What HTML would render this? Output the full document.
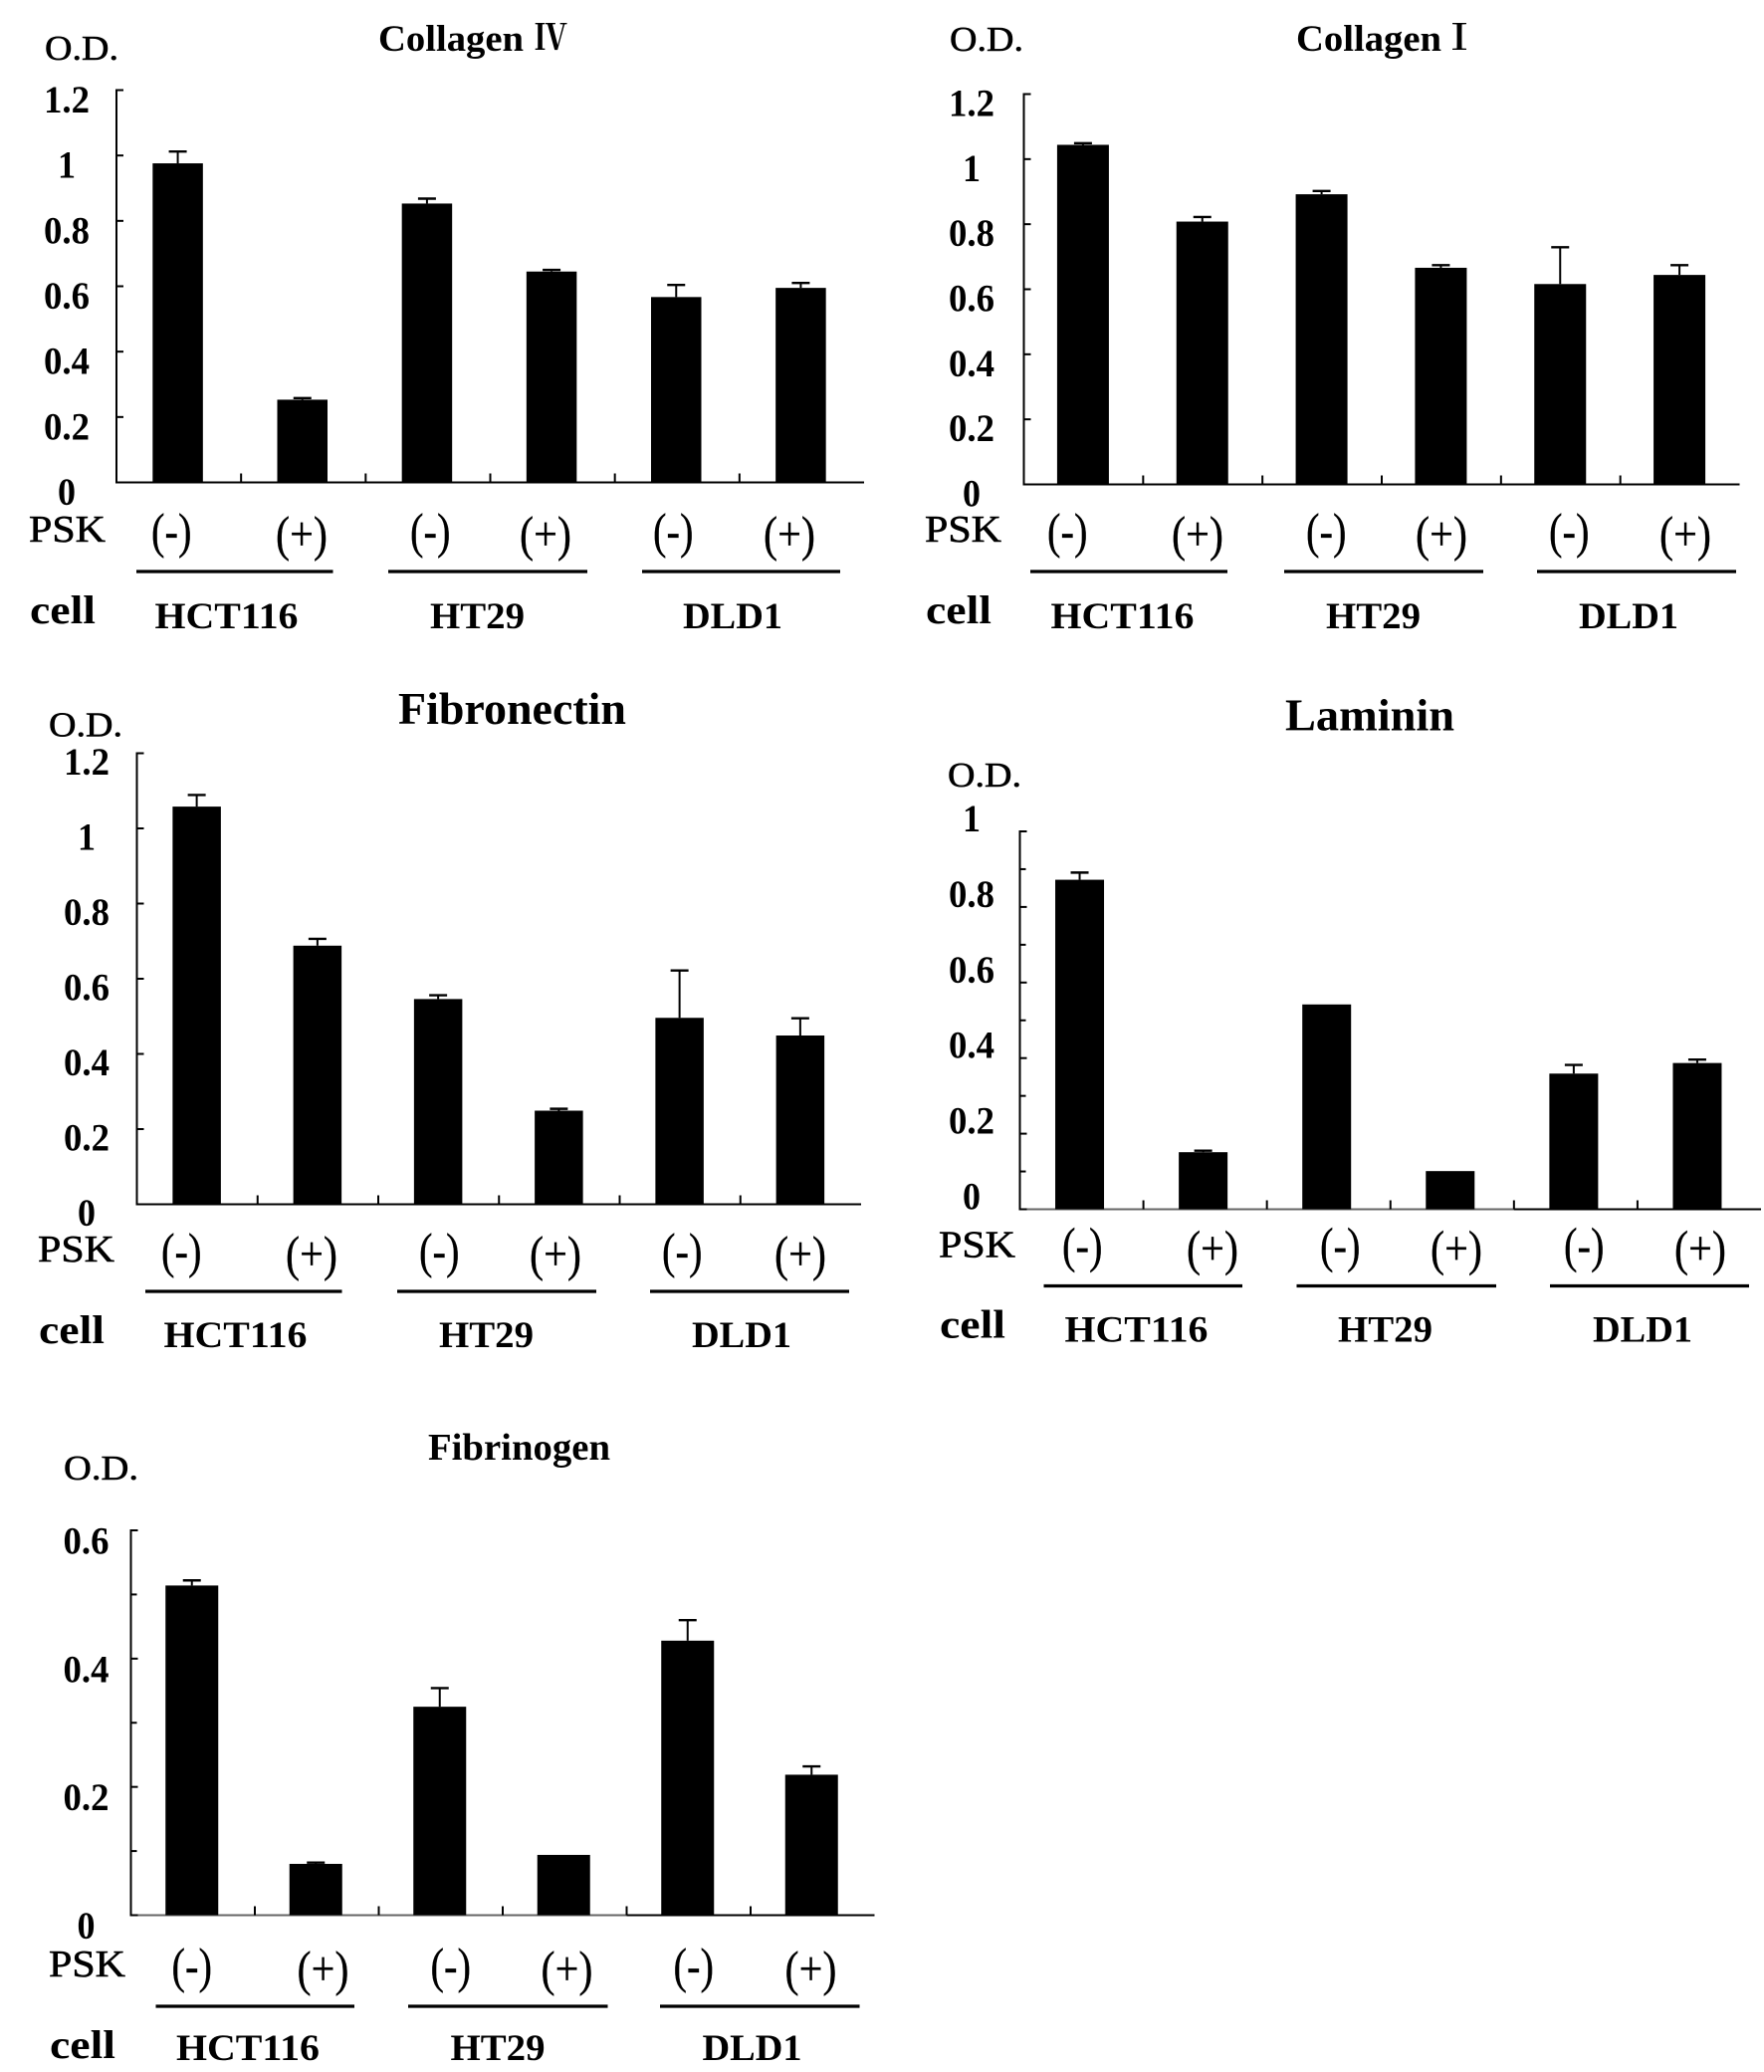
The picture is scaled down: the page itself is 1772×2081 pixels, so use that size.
<!DOCTYPE html>
<html lang="en">
<head>
<meta charset="utf-8">
<title>O.D. by cell line and PSK treatment</title>
<style>
html,body{margin:0;padding:0;background:#fff;}
svg{display:block;}
text{font-family:"Liberation Serif","Noto Serif CJK JP","Noto Sans CJK JP",serif;fill:#000;}
.t{font-weight:bold;}
.od{font-size:35px;stroke:#000;stroke-width:.6px;}
.psk{font-size:38px;stroke:#000;stroke-width:.6px;}
.sign{font-size:50px;stroke:#000;stroke-width:.3px;}
.cellhead{font-size:40px;font-weight:bold;}
.cellname{font-size:37px;font-weight:bold;}
.tick{font-size:39px;font-weight:bold;}
.rule{stroke:#000;stroke-width:3.2;}
</style>
</head>
<body>
<svg id="figure" xmlns="http://www.w3.org/2000/svg" width="1772" height="2081" viewBox="0 0 1772 2081">
<rect width="1772" height="2081" fill="#fff"/>

<g id="panel-collagen4">
<text class="t" x="380" y="51" font-size="37" textLength="146" lengthAdjust="spacingAndGlyphs">Collagen</text>
<text class="t" x="537" y="50" font-size="36" textLength="33" lengthAdjust="spacingAndGlyphs">Ⅳ</text>
<text class="od" x="45" y="60" textLength="74" lengthAdjust="spacingAndGlyphs">O.D.</text>
<g transform="translate(0,0)">
<text class="psk" x="29" y="544" textLength="77" lengthAdjust="spacingAndGlyphs">PSK</text>
<text class="sign" x="152" y="550" textLength="40.500" lengthAdjust="spacingAndGlyphs">(-)</text>
<text class="sign" x="277" y="553" textLength="52" lengthAdjust="spacingAndGlyphs">(+)</text>
<text class="sign" x="412" y="550" textLength="40.500" lengthAdjust="spacingAndGlyphs">(-)</text>
<text class="sign" x="522" y="553" textLength="52" lengthAdjust="spacingAndGlyphs">(+)</text>
<text class="sign" x="656" y="550" textLength="40.500" lengthAdjust="spacingAndGlyphs">(-)</text>
<text class="sign" x="767" y="553" textLength="52" lengthAdjust="spacingAndGlyphs">(+)</text>
<line class="rule" x1="137" x2="334.500" y1="574" y2="574"/>
<line class="rule" x1="390" x2="590" y1="574" y2="574"/>
<line class="rule" x1="645" x2="844" y1="574" y2="574"/>
<text class="cellhead" x="30" y="626" textLength="66" lengthAdjust="spacingAndGlyphs">cell</text>
<text class="cellname" x="155.500" y="631" textLength="144" lengthAdjust="spacingAndGlyphs">HCT116</text>
<text class="cellname" x="432" y="631" textLength="95" lengthAdjust="spacingAndGlyphs">HT29</text>
<text class="cellname" x="686" y="631" textLength="100" lengthAdjust="spacingAndGlyphs">DLD1</text>
</g>
</g>

<g id="panel-collagen1">
<text class="t" x="1302" y="51" font-size="37" textLength="146" lengthAdjust="spacingAndGlyphs">Collagen</text>
<text class="t" x="1448" y="50" font-size="36">Ⅰ</text>
<text class="od" x="954" y="51" textLength="74" lengthAdjust="spacingAndGlyphs">O.D.</text>
<g transform="translate(900,0)">
<text class="psk" x="29" y="544" textLength="77" lengthAdjust="spacingAndGlyphs">PSK</text>
<text class="sign" x="152" y="550" textLength="40.500" lengthAdjust="spacingAndGlyphs">(-)</text>
<text class="sign" x="277" y="553" textLength="52" lengthAdjust="spacingAndGlyphs">(+)</text>
<text class="sign" x="412" y="550" textLength="40.500" lengthAdjust="spacingAndGlyphs">(-)</text>
<text class="sign" x="522" y="553" textLength="52" lengthAdjust="spacingAndGlyphs">(+)</text>
<text class="sign" x="656" y="550" textLength="40.500" lengthAdjust="spacingAndGlyphs">(-)</text>
<text class="sign" x="767" y="553" textLength="52" lengthAdjust="spacingAndGlyphs">(+)</text>
<line class="rule" x1="135" x2="333" y1="574" y2="574"/>
<line class="rule" x1="390" x2="590" y1="574" y2="574"/>
<line class="rule" x1="644" x2="844" y1="574" y2="574"/>
<text class="cellhead" x="30" y="626" textLength="66" lengthAdjust="spacingAndGlyphs">cell</text>
<text class="cellname" x="155.500" y="631" textLength="144" lengthAdjust="spacingAndGlyphs">HCT116</text>
<text class="cellname" x="432" y="631" textLength="95" lengthAdjust="spacingAndGlyphs">HT29</text>
<text class="cellname" x="686" y="631" textLength="100" lengthAdjust="spacingAndGlyphs">DLD1</text>
</g>
</g>

<g id="panel-fibronectin">
<text class="t" x="400" y="727" font-size="45" textLength="229" lengthAdjust="spacingAndGlyphs">Fibronectin</text>
<text class="od" x="49" y="739.500" textLength="74" lengthAdjust="spacingAndGlyphs">O.D.</text>
<g transform="translate(9,723)">
<text class="psk" x="29" y="544" textLength="77" lengthAdjust="spacingAndGlyphs">PSK</text>
<text class="sign" x="153" y="550" textLength="40.500" lengthAdjust="spacingAndGlyphs">(-)</text>
<text class="sign" x="278" y="553" textLength="52" lengthAdjust="spacingAndGlyphs">(+)</text>
<text class="sign" x="412" y="550" textLength="40.500" lengthAdjust="spacingAndGlyphs">(-)</text>
<text class="sign" x="523" y="553" textLength="52" lengthAdjust="spacingAndGlyphs">(+)</text>
<text class="sign" x="656" y="550" textLength="40.500" lengthAdjust="spacingAndGlyphs">(-)</text>
<text class="sign" x="769" y="553" textLength="52" lengthAdjust="spacingAndGlyphs">(+)</text>
<line class="rule" x1="137" x2="334.500" y1="574" y2="574"/>
<line class="rule" x1="390" x2="590" y1="574" y2="574"/>
<line class="rule" x1="644" x2="844" y1="574" y2="574"/>
<text class="cellhead" x="30" y="626" textLength="66" lengthAdjust="spacingAndGlyphs">cell</text>
<text class="cellname" x="155.500" y="630" textLength="144" lengthAdjust="spacingAndGlyphs">HCT116</text>
<text class="cellname" x="432" y="630" textLength="95" lengthAdjust="spacingAndGlyphs">HT29</text>
<text class="cellname" x="686" y="630" textLength="100" lengthAdjust="spacingAndGlyphs">DLD1</text>
</g>
</g>

<g id="panel-laminin">
<text class="t" x="1291" y="733.500" font-size="45" textLength="170" lengthAdjust="spacingAndGlyphs">Laminin</text>
<text class="od" x="952" y="790" textLength="74" lengthAdjust="spacingAndGlyphs">O.D.</text>
<g transform="translate(914,717.500)">
<text class="psk" x="29" y="545" textLength="77" lengthAdjust="spacingAndGlyphs">PSK</text>
<text class="sign" x="153" y="550" textLength="40.500" lengthAdjust="spacingAndGlyphs">(-)</text>
<text class="sign" x="278" y="553" textLength="52" lengthAdjust="spacingAndGlyphs">(+)</text>
<text class="sign" x="412" y="550" textLength="40.500" lengthAdjust="spacingAndGlyphs">(-)</text>
<text class="sign" x="523" y="553" textLength="52" lengthAdjust="spacingAndGlyphs">(+)</text>
<text class="sign" x="657" y="550" textLength="40.500" lengthAdjust="spacingAndGlyphs">(-)</text>
<text class="sign" x="768" y="553" textLength="52" lengthAdjust="spacingAndGlyphs">(+)</text>
<line class="rule" x1="134.500" x2="334" y1="574" y2="574"/>
<line class="rule" x1="388.500" x2="589" y1="574" y2="574"/>
<line class="rule" x1="643" x2="843" y1="574" y2="574"/>
<text class="cellhead" x="30" y="626" textLength="66" lengthAdjust="spacingAndGlyphs">cell</text>
<text class="cellname" x="155.500" y="630" textLength="144" lengthAdjust="spacingAndGlyphs">HCT116</text>
<text class="cellname" x="430" y="630" textLength="95" lengthAdjust="spacingAndGlyphs">HT29</text>
<text class="cellname" x="686" y="630" textLength="100" lengthAdjust="spacingAndGlyphs">DLD1</text>
</g>
</g>

<g id="panel-fibrinogen">
<text class="t" x="430" y="1466" font-size="38" textLength="183" lengthAdjust="spacingAndGlyphs">Fibrinogen</text>
<text class="od" x="64" y="1486" textLength="75" lengthAdjust="spacingAndGlyphs">O.D.</text>
<g transform="translate(20.500,1441)">
<text class="psk" x="28.500" y="544" textLength="77" lengthAdjust="spacingAndGlyphs">PSK</text>
<text class="sign" x="152" y="550" textLength="40.500" lengthAdjust="spacingAndGlyphs">(-)</text>
<text class="sign" x="278" y="553" textLength="52" lengthAdjust="spacingAndGlyphs">(+)</text>
<text class="sign" x="412" y="550" textLength="40.500" lengthAdjust="spacingAndGlyphs">(-)</text>
<text class="sign" x="523" y="553" textLength="52" lengthAdjust="spacingAndGlyphs">(+)</text>
<text class="sign" x="656" y="550" textLength="40.500" lengthAdjust="spacingAndGlyphs">(-)</text>
<text class="sign" x="768" y="553" textLength="52" lengthAdjust="spacingAndGlyphs">(+)</text>
<line class="rule" x1="136" x2="335.500" y1="574" y2="574"/>
<line class="rule" x1="389.500" x2="590" y1="574" y2="574"/>
<line class="rule" x1="642.500" x2="843" y1="574" y2="574"/>
<text class="cellhead" x="29.500" y="626" textLength="66" lengthAdjust="spacingAndGlyphs">cell</text>
<text class="cellname" x="156.500" y="628" textLength="144" lengthAdjust="spacingAndGlyphs">HCT116</text>
<text class="cellname" x="432" y="628" textLength="95" lengthAdjust="spacingAndGlyphs">HT29</text>
<text class="cellname" x="685" y="628" textLength="100" lengthAdjust="spacingAndGlyphs">DLD1</text>
</g>
</g>
</svg>

<script>
// Bar order in every panel: HCT116 (-), HCT116 (+), HT29 (-), HT29 (+), DLD1 (-), DLD1 (+)
const categories = ['hct116-minus', 'hct116-plus', 'ht29-minus', 'ht29-plus', 'dld1-minus', 'dld1-plus'];

const collagen4Values = [0.976, 0.253, 0.853, 0.645, 0.567, 0.595];
const collagen4Errors = [0.036, 0.005, 0.015, 0.005, 0.037, 0.015];
const collagen4TickLabels = ['0', '0.2', '0.4', '0.6', '0.8', '1', '1.2'];

const collagen1Values = [1.044, 0.808, 0.892, 0.666, 0.616, 0.644];
const collagen1Errors = [0.005, 0.014, 0.010, 0.008, 0.113, 0.030];
const collagen1TickLabels = ['0', '0.2', '0.4', '0.6', '0.8', '1', '1.2'];

const fibronectinValues = [1.058, 0.688, 0.546, 0.249, 0.496, 0.449];
const fibronectinErrors = [0.031, 0.018, 0.010, 0.005, 0.126, 0.046];
const fibronectinTickLabels = ['0', '0.2', '0.4', '0.6', '0.8', '1', '1.2'];

const lamininValues = [0.872, 0.151, 0.542, 0.101, 0.359, 0.387];
const lamininErrors = [0.019, 0.004, 0, 0, 0.023, 0.009];
const lamininTickLabels = ['0', '0.2', '0.4', '0.6', '0.8', '1'];
const lamininMinorTicks = [0.1, 0.3, 0.5, 0.7, 0.9];

const fibrinogenValues = [0.514, 0.080, 0.325, 0.094, 0.428, 0.219];
const fibrinogenErrors = [0.008, 0.002, 0.029, 0, 0.032, 0.013];
const fibrinogenTickLabels = ['0', '0.2', '0.4', '0.6'];
const fibrinogenMinorTicks = [0.1, 0.3, 0.5];

const SVG_NS = 'http://www.w3.org/2000/svg';

function makeLine(parent, x1, y1, x2, y2, width) {
  const l = document.createElementNS(SVG_NS, 'line');
  l.setAttribute('x1', x1);
  l.setAttribute('y1', y1);
  l.setAttribute('x2', x2);
  l.setAttribute('y2', y2);
  l.setAttribute('stroke', '#000');
  l.setAttribute('stroke-width', width);
  parent.appendChild(l);
  return l;
}

function drawPanel(o) {
  const root = document.getElementById(o.id);
  const slot = (o.slotRight - o.left) / categories.length;
  const yScale = v => o.base - (v / o.max) * (o.base - o.top);
  const xScale = i => o.left + slot * (i + 0.5) + o.shift;

  const yAxis = makeLine(root, o.left, o.top - 1, o.left, o.base + 1, 2);
  
  
  const xAxis = makeLine(root, o.left - 1, o.base, o.right, o.base, 2);
  
  
  if (o.graySlots) {
    const grayPart = makeLine(root, o.left + 4, o.base, o.left + slot * o.graySlots, o.base, 2);
    grayPart.setAttribute('stroke', '#666');
    
    
  }

  o.tickLabels.forEach(function (label) {
    const v = Number(label);
    const tick = makeLine(root, o.left, yScale(v), o.left + 7, yScale(v), 2);
    
    
    const t = document.createElementNS(SVG_NS, 'text');
    t.setAttribute('class', 'tick');
    t.setAttribute('x', o.labelX);
    t.setAttribute('y', yScale(v) + o.labelDy + 12.5);
    t.setAttribute('text-anchor', 'middle');
    t.setAttribute('lengthAdjust', 'spacingAndGlyphs');
    t.setAttribute('textLength', label.length === 1 ? 18 : 46);
    t.textContent = label;
    
    
    root.appendChild(t);
  });

  (o.minorTicks || []).forEach(function (v) {
    const tick = makeLine(root, o.left, yScale(v), o.left + 6, yScale(v), 2);
    
    
  });

  for (let i = 1; i < categories.length; i++) {
    const x = o.left + slot * i;
    const tick = makeLine(root, x, o.base, x, o.base - 9, 2);
    
    
  }

  o.values.forEach(function (v, i) {
    const cx = xScale(i);
    const top = yScale(v);
    if (o.errors[i] > 0) {
      const errTop = yScale(v + o.errors[i]);
      const stem = makeLine(root, cx, top, cx, errTop, 2);
      
      
      const cap = makeLine(root, cx - 9, errTop, cx + 9, errTop, 2.4);
      
      
    }
    const bar = document.createElementNS(SVG_NS, 'rect');
    bar.setAttribute('x', cx - o.barW / 2);
    bar.setAttribute('y', top);
    bar.setAttribute('width', o.barW);
    bar.setAttribute('height', o.base - top);
    bar.setAttribute('fill', '#000');
    
    
    root.appendChild(bar);
  });
}

drawPanel({id: 'panel-collagen4', left: 117, right: 868, slotRight: 868, top: 90.5, base: 484.5, max: 1.2, shift: -1, barW: 50.5, labelX: 67, labelDy: 10, values: collagen4Values, errors: collagen4Errors, tickLabels: collagen4TickLabels});
drawPanel({id: 'panel-collagen1', left: 1028.5, right: 1747.5, slotRight: 1747.5, top: 94.5, base: 486.5, max: 1.2, shift: -0.5, barW: 52, labelX: 976, labelDy: 9.5, values: collagen1Values, errors: collagen1Errors, tickLabels: collagen1TickLabels});
drawPanel({id: 'panel-fibronectin', left: 137.5, right: 865, slotRight: 865, top: 756.5, base: 1209.5, max: 1.2, shift: -0.5, barW: 48.5, labelX: 87, labelDy: 9, values: fibronectinValues, errors: fibronectinErrors, tickLabels: fibronectinTickLabels});
drawPanel({id: 'panel-laminin', left: 1024.5, right: 1769, slotRight: 1769, top: 835, base: 1214.5, max: 1, shift: -2, barW: 49, labelX: 976, labelDy: -12.5, values: lamininValues, errors: lamininErrors, tickLabels: lamininTickLabels, minorTicks: lamininMinorTicks, graySlots: 4});
drawPanel({id: 'panel-fibrinogen', left: 131.5, right: 878.5, slotRight: 878.5, top: 1537, base: 1923.5, max: 0.6, shift: -1, barW: 53, labelX: 86.5, labelDy: 11, values: fibrinogenValues, errors: fibrinogenErrors, tickLabels: fibrinogenTickLabels, minorTicks: fibrinogenMinorTicks, graySlots: 4});
</script>
</body>
</html>
